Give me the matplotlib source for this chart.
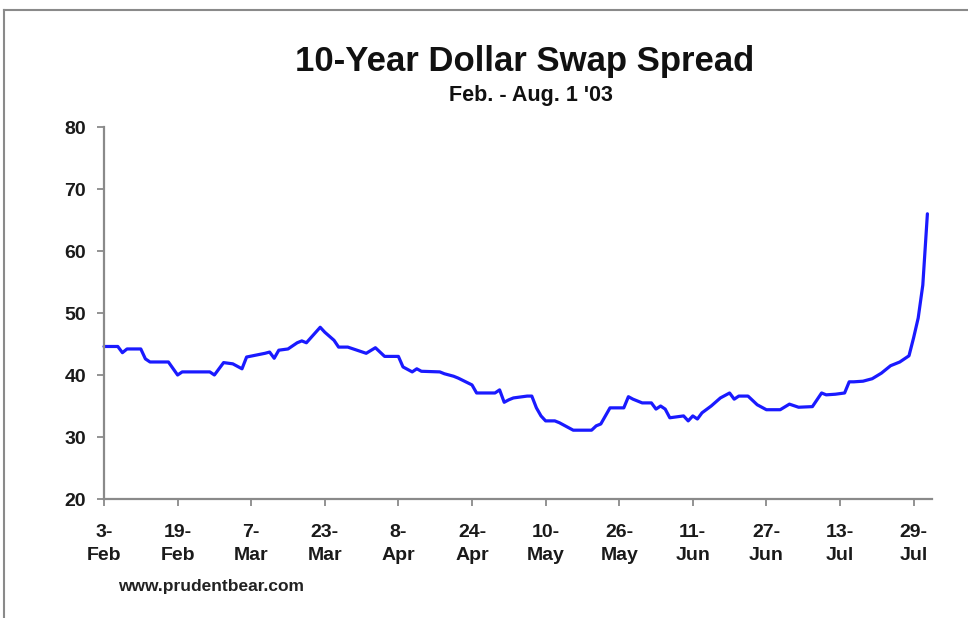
import matplotlib
matplotlib.use("Agg")
import matplotlib.pyplot as plt
from matplotlib.lines import Line2D
import datetime as dt

plt.rcParams['font.family'] = ['Liberation Sans', 'DejaVu Sans']

dates = ["2003-02-03", "2003-02-06", "2003-02-07", "2003-02-08", "2003-02-11", "2003-02-12",
         "2003-02-13", "2003-02-17", "2003-02-19", "2003-02-20", "2003-02-26", "2003-02-27",
         "2003-03-01", "2003-03-03", "2003-03-05", "2003-03-06", "2003-03-10", "2003-03-11",
         "2003-03-12", "2003-03-13", "2003-03-15", "2003-03-17", "2003-03-18", "2003-03-19",
         "2003-03-22", "2003-03-23", "2003-03-25", "2003-03-26", "2003-03-28", "2003-03-30",
         "2003-04-01", "2003-04-03", "2003-04-05", "2003-04-08", "2003-04-09", "2003-04-11",
         "2003-04-12", "2003-04-13", "2003-04-17", "2003-04-18", "2003-04-20", "2003-04-21",
         "2003-04-24", "2003-04-25", "2003-04-29", "2003-04-30", "2003-05-01", "2003-05-02",
         "2003-05-03", "2003-05-06", "2003-05-07", "2003-05-08", "2003-05-09", "2003-05-10",
         "2003-05-12", "2003-05-13", "2003-05-15", "2003-05-16", "2003-05-20", "2003-05-21",
         "2003-05-22", "2003-05-23", "2003-05-24", "2003-05-27", "2003-05-28", "2003-05-29",
         "2003-05-30", "2003-05-31", "2003-06-02", "2003-06-03", "2003-06-04", "2003-06-05",
         "2003-06-06", "2003-06-09", "2003-06-10", "2003-06-11", "2003-06-12", "2003-06-13",
         "2003-06-15", "2003-06-17", "2003-06-19", "2003-06-20", "2003-06-21", "2003-06-23",
         "2003-06-25", "2003-06-27", "2003-06-30", "2003-07-02", "2003-07-04", "2003-07-07",
         "2003-07-08", "2003-07-09", "2003-07-10", "2003-07-12", "2003-07-14", "2003-07-15",
         "2003-07-16", "2003-07-18", "2003-07-20", "2003-07-22", "2003-07-24", "2003-07-25",
         "2003-07-26", "2003-07-28", "2003-07-29", "2003-07-30", "2003-07-31", "2003-08-01"]

spread = [44.6, 44.6, 43.6, 44.2, 44.2, 42.6,
          42.1, 42.1, 40.0, 40.5, 40.5, 40.0,
          42.0, 41.8, 41.0, 42.9, 43.5, 43.7,
          42.7, 44.0, 44.2, 45.2, 45.5, 45.2,
          47.7, 46.9, 45.6, 44.5, 44.5, 44.0,
          43.5, 44.4, 43.0, 43.0, 41.3, 40.5,
          41.0, 40.6, 40.5, 40.2, 39.8, 39.5,
          38.4, 37.1, 37.1, 37.6, 35.6, 36.0,
          36.3, 36.6, 36.6, 34.7, 33.4, 32.6,
          32.6, 32.3, 31.5, 31.1, 31.1, 31.8,
          32.1, 33.4, 34.7, 34.7, 36.5, 36.1,
          35.8, 35.5, 35.5, 34.5, 35.0, 34.5,
          33.1, 33.4, 32.6, 33.4, 32.9, 33.9,
          35.0, 36.3, 37.1, 36.1, 36.6, 36.6,
          35.2, 34.4, 34.4, 35.3, 34.8, 34.9,
          36.0, 37.1, 36.8, 36.9, 37.1, 38.9,
          38.9, 39.0, 39.4, 40.3, 41.5, 41.8,
          42.1, 43.1, 46.0, 49.2, 54.5, 66.0]

tick_dates = ["2003-02-03", "2003-02-19", "2003-03-07", "2003-03-23", "2003-04-08", "2003-04-24",
              "2003-05-10", "2003-05-26", "2003-06-11", "2003-06-27", "2003-07-13", "2003-07-29"]
tick_labels = ["3-\nFeb", "19-\nFeb", "7-\nMar", "23-\nMar", "8-\nApr", "24-\nApr",
               "10-\nMay", "26-\nMay", "11-\nJun", "27-\nJun", "13-\nJul", "29-\nJul"]
y_ticks = [20, 30, 40, 50, 60, 70, 80]

title = "10-Year Dollar Swap Spread"
subtitle = "Feb. - Aug. 1 '03"
source = "www.prudentbear.com"

x = [dt.datetime.strptime(d, "%Y-%m-%d") for d in dates]
xt = [dt.datetime.strptime(d, "%Y-%m-%d") for d in tick_dates]

W, H = 968, 618
fig = plt.figure(figsize=(W / 100, H / 100), dpi=100)
fig.patch.set_facecolor("white")

ax = fig.add_axes([104 / W, 1 - 499 / H, (932 - 104) / W, (499 - 127) / H])
ax.plot(x, spread, color="#1a1aff", lw=2.3, solid_joinstyle="round", solid_capstyle="round",
        clip_on=False)

ax.set_xlim(dt.datetime(2003, 2, 3), dt.datetime(2003, 8, 2))
ax.set_ylim(20, 80)
ax.set_yticks(y_ticks)
ax.set_xticks(xt)
ax.set_xticklabels(tick_labels, fontsize=14, fontweight="bold", linespacing=1.5,
                   color="#1a1a1a")
ax.set_yticklabels([str(v) for v in y_ticks], fontsize=14, fontweight="bold", color="#1a1a1a")

for s in ["top", "right"]:
    ax.spines[s].set_visible(False)
for s in ["left", "bottom"]:
    ax.spines[s].set_color("#8a8a8a")
    ax.spines[s].set_linewidth(1.6)
ax.tick_params(axis="both", direction="out", length=5, width=1.3, color="#8a8a8a")
ax.tick_params(axis="x", pad=13)
ax.tick_params(axis="y", pad=8)

fig.text(525 / W, 1 - 62 / H, title, ha="center", va="center", fontsize=25,
         fontweight="bold", color="#111111")
fig.text(531 / W, 1 - 96 / H, subtitle, ha="center", va="center", fontsize=15.5,
         fontweight="bold", color="#111111")
fig.text(118 / W, 1 - 586 / H, source, ha="left", va="center", fontsize=12.5,
         fontweight="bold", color="#222222")

# frame border (top and left edges visible)
fig.add_artist(Line2D([4 / W, 1.0], [1 - 10 / H, 1 - 10 / H], transform=fig.transFigure,
                      color="#8a8a8a", lw=1.5))
fig.add_artist(Line2D([4 / W, 4 / W], [0.0, 1 - 10 / H], transform=fig.transFigure,
                      color="#8a8a8a", lw=1.5))

fig.savefig("out.png", dpi=100, facecolor="white")
